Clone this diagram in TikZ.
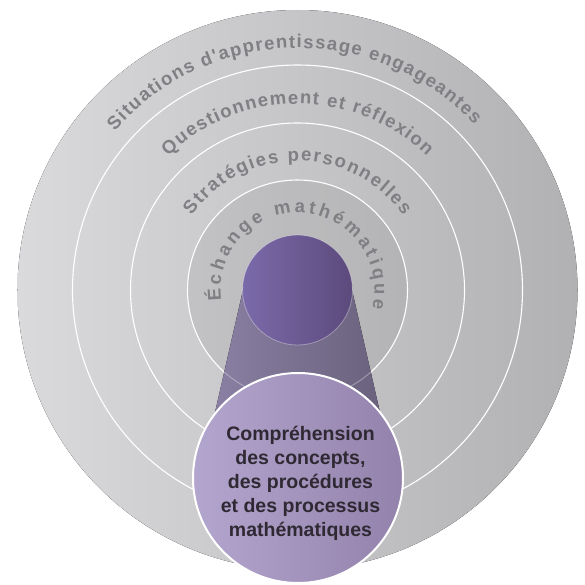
\documentclass[tikz,border=0pt]{standalone}
\usepackage{fontspec}
\setmainfont{Liberation Sans}
\newfontfamily\ringfamily{Liberation Sans}[Ligatures=TeXOff]
\usetikzlibrary{decorations.text}

\definecolor{discL}{HTML}{DADADC}
\definecolor{discR}{HTML}{B1B1B4}
\definecolor{ringtext}{HTML}{808084}
\definecolor{coneL}{HTML}{8C82A6}
\definecolor{coneR}{HTML}{675F7A}
\definecolor{hubL}{HTML}{7B6AAA}
\definecolor{hubR}{HTML}{5C4A7C}
\definecolor{coreL}{HTML}{B3A6CE}
\definecolor{coreR}{HTML}{9382AB}
\definecolor{coretext}{HTML}{2E2933}

\newcommand{\ringfont}{\ringfamily\fontsize{18.5}{22}\selectfont\bfseries}

\tikzset{
  ringline/.style={draw=white, line width=1.1pt},
  ringlabel/.style={decorate, decoration={text along path,
      text align=fit to path, text color=ringtext, text={|\ringfont|#1}}},
  core/.style={align=center, text=coretext,
      font=\fontsize{19.5}{24}\selectfont\bfseries}
}

\begin{document}
\begin{tikzpicture}[x=1pt,y=1pt]
    \useasboundingbox (-297.5,-294) rectangle (287.5,290);

    %% grey disc and the white rings
    \fill[left color=discL, right color=discR] (0,0) circle (280);
    \fill[black, opacity=0.05] (0,0) circle (110);
    \foreach \r in {225, 167, 110}{
      \draw[ringline] (0,0) circle (\r);}

    %% ring labels
    \path[ringlabel={Situations d'apprentissage engageantes}]
      (139:242) arc[start angle=139, end angle=43, radius=242];
    \path[ringlabel={Questionnement et réflexion}]
      (134:186) arc[start angle=134, end angle=46, radius=186];
    \path[ringlabel={Stratégies personnelles}]
      (145:129) arc[start angle=145, end angle=35, radius=129];
    \path[ringlabel={Échange mathématique}]
      (188:77) arc[start angle=188, end angle=-14, radius=77];

    %% the cone from the hub down to the core, rings showing through
    \fill[left color=coneL, right color=coneR]
      (-54.5,0) -- (54.5,0) -- (97.5,-188) -- (-97.5,-188) -- cycle;
    \begin{scope}
      \clip (-54.5,0) -- (54.5,0) -- (97.5,-188) -- (-97.5,-188) -- cycle;
      \foreach \r in {167, 110}{
        \draw[ringline, draw opacity=0.3] (0,0) circle (\r);}
    \end{scope}

    %% hub
    \draw[left color=hubL, right color=hubR, draw=white, draw opacity=0.35,
      line width=0.8pt] (0,0) circle (55);

    %% core
    \draw[left color=coreL, right color=coreR, draw=white, line width=2pt]
      (0.5,-188) circle (105);
    \node[core] (core) at (3,-193)
      {Compréhension\\des concepts,\\des procédures\\et des processus\\mathématiques};
\end{tikzpicture}
\end{document}
